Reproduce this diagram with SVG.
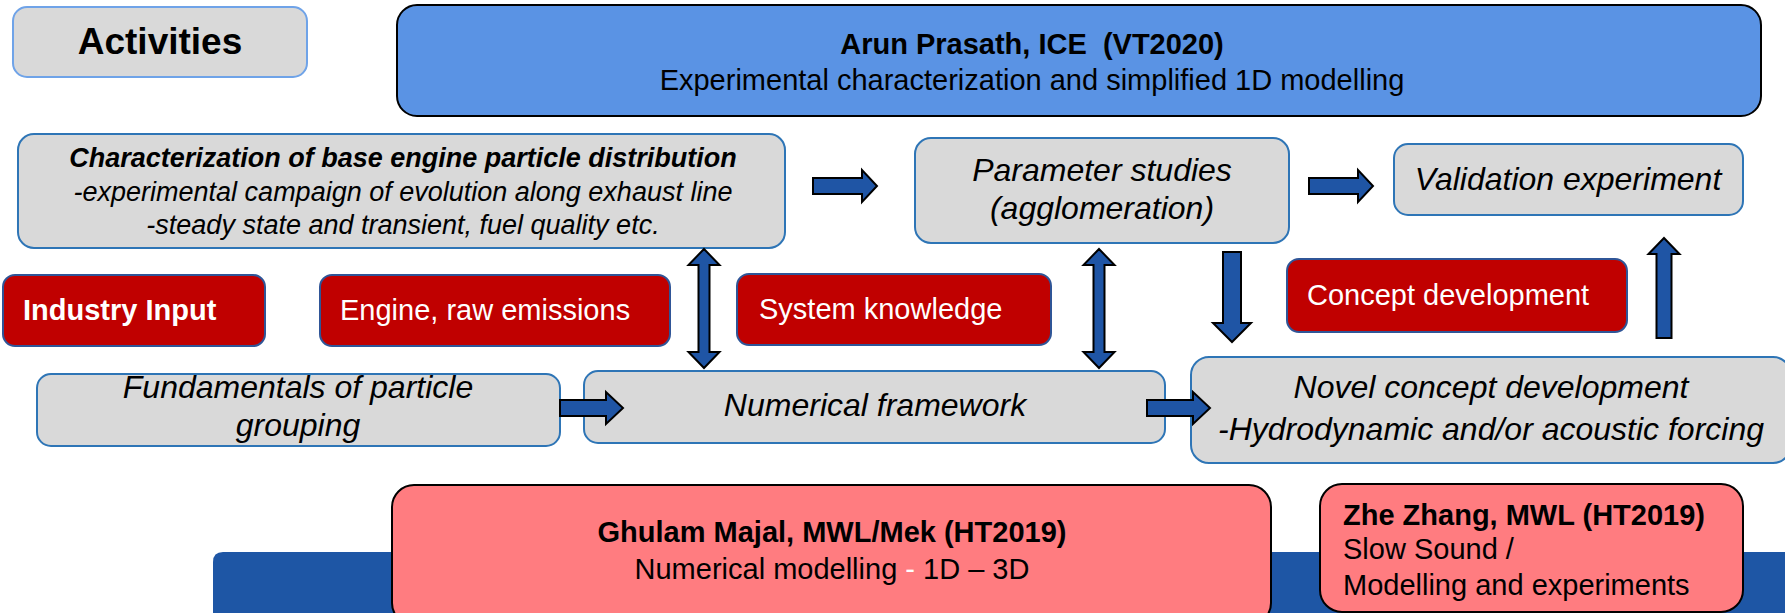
<svg xmlns="http://www.w3.org/2000/svg" width="1785" height="613" viewBox="0 0 1785 613">
<style>
text{font-family:"Liberation Sans",Arial,sans-serif;fill:#000}
.grey{fill:#D9D9D9;stroke:#2E75B6;stroke-width:2}
.red{fill:#C00000;stroke:#2F5597;stroke-width:2}
.wt{fill:#FFFFFF;font-size:29px}
.it{font-style:italic;font-size:32px}
.arr{fill:#1F55A5;stroke:#000;stroke-width:2;stroke-linejoin:miter}
.sal{fill:#FF7C80;stroke:#000;stroke-width:2}
.mid{text-anchor:middle}
</style>
<rect x="0" y="0" width="1785" height="613" fill="#FFFFFF"/>
<g id="band"><path d="M213,562 Q213,552 223,552 H1785 V613 H213 Z" fill="#1E56A5"/></g>
<g id="activities"><rect x="13" y="7" width="294" height="70" rx="14" fill="#D9D9D9" stroke="#6FA3E8" stroke-width="2"/><text x="160" y="54" class="mid" font-size="37" font-weight="bold">Activities</text></g>
<g id="arun"><rect x="397" y="5" width="1364" height="111" rx="20" fill="#5A93E4" stroke="#000" stroke-width="2"/><text x="1032" y="54" class="mid" font-size="29" font-weight="bold" xml:space="preserve">Arun Prasath, ICE  (VT2020)</text><text x="1032" y="90" class="mid" font-size="29">Experimental characterization and simplified 1D modelling</text></g>
<g id="characterization"><rect x="18" y="134" width="767" height="114" rx="16" class="grey"/><text x="403" y="167" class="mid" font-size="27" font-style="italic" font-weight="bold">Characterization of base engine particle distribution</text><text x="403" y="201" class="mid" font-size="27" font-style="italic">-experimental campaign of evolution along exhaust line</text><text x="403" y="234" class="mid" font-size="27" font-style="italic">-steady state and transient, fuel quality etc.</text></g>
<g id="parameter"><rect x="915" y="138" width="374" height="105" rx="16" class="grey"/><text x="1102" y="181" class="mid it">Parameter studies</text><text x="1102" y="219" class="mid it">(agglomeration)</text></g>
<g id="validation"><rect x="1394" y="144" width="349" height="71" rx="14" class="grey"/><text x="1568" y="190" class="mid it">Validation experiment</text></g>
<g id="industry"><rect x="3" y="275" width="262" height="71" rx="12" class="red"/><text x="23" y="320" class="wt" font-weight="bold">Industry Input</text></g>
<g id="engine"><rect x="320" y="275" width="350" height="71" rx="12" class="red"/><text x="340" y="320" class="wt">Engine, raw emissions</text></g>
<g id="system"><rect x="737" y="274" width="314" height="71" rx="12" class="red"/><text x="759" y="319" class="wt">System knowledge</text></g>
<g id="concept"><rect x="1287" y="259" width="340" height="73" rx="12" class="red"/><text x="1307" y="305" class="wt">Concept development</text></g>
<g id="fundamentals"><rect x="37" y="374" width="523" height="72" rx="14" class="grey"/><text x="298" y="398" class="mid it">Fundamentals of particle</text><text x="298" y="436" class="mid it">grouping</text></g>
<g id="numerical"><rect x="584" y="371" width="581" height="72" rx="14" class="grey"/><text x="875" y="416" class="mid it">Numerical framework</text></g>
<g id="novel"><rect x="1191" y="357" width="600" height="106" rx="18" class="grey"/><text x="1491" y="398" class="mid it">Novel concept development</text><text x="1491" y="440" class="mid it">-Hydrodynamic and/or acoustic forcing</text></g>
<g id="ghulam"><rect x="392" y="485" width="879" height="140" rx="22" class="sal"/><text x="832" y="542" class="mid" font-size="29" font-weight="bold">Ghulam Majal, MWL/Mek (HT2019)</text><text x="832" y="579" class="mid" font-size="29">Numerical modelling <tspan fill="#FFFFFF">-</tspan> 1D – 3D</text></g>
<g id="zhe"><rect x="1320" y="484" width="423" height="128" rx="22" class="sal"/><text x="1343" y="525" font-size="29" font-weight="bold">Zhe Zhang, MWL (HT2019)</text><text x="1343" y="559" font-size="29">Slow Sound /</text><text x="1343" y="595" font-size="29">Modelling and experiments</text></g>
<g id="connectors">
<path class="arr" d="M813,178 H862 V170 L877,186 L862,202 V194 H813 Z"/>
<path class="arr" d="M1309,178 H1358 V170 L1373,186 L1358,202 V194 H1309 Z"/>
<path class="arr" d="M560,400 H606 V392 L623,408 L606,424 V416 H560 Z"/>
<path class="arr" d="M1147,400 H1193 V392 L1210,408 L1193,424 V416 H1147 Z"/>
<path class="arr" d="M704,249 L719.5,265 H709.5 V352 H719.5 L704,368 L688.5,352 H698.5 V265 H688.5 Z"/>
<path class="arr" d="M1099,249 L1114.5,265 H1104.5 V352 H1114.5 L1099,368 L1083.5,352 H1093.5 V265 H1083.5 Z"/>
<path class="arr" d="M1223,252 H1241 V323 H1251 L1232,342 L1213,323 H1223 Z"/>
<path class="arr" d="M1664,238 L1679.5,254 H1671.5 V338 H1656.5 V254 H1648.5 Z"/>
</g>
</svg>
